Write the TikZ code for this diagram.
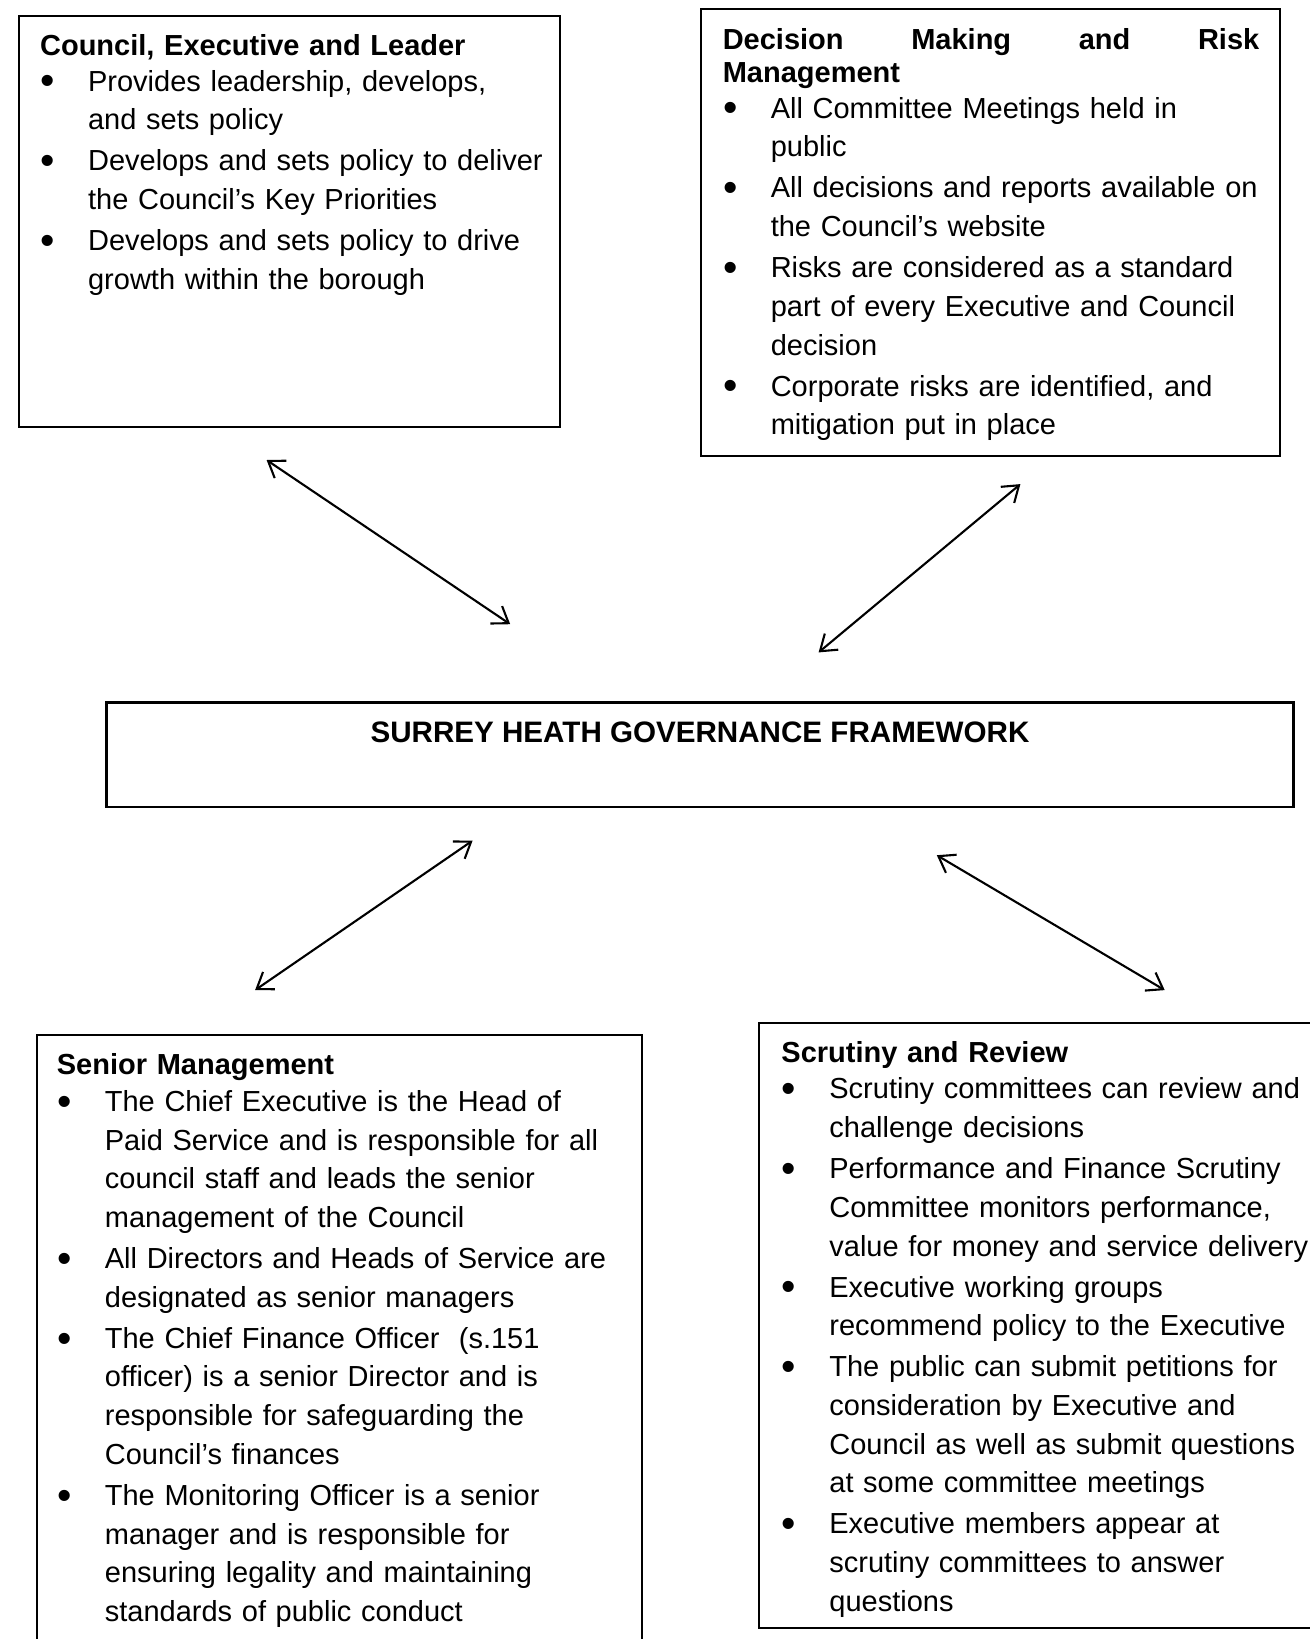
\documentclass[tikz,border=0pt]{standalone}
\usepackage{fontspec}
\setmainfont{Liberation Sans}
\usetikzlibrary{arrows.meta}
\newcommand{\bigbul}{\raisebox{-1.9pt}{\fontsize{20.5pt}{0pt}\selectfont\textbullet}}
\newcommand{\Bl}[2][1.2pt]{\par\vspace{#1}\noindent\makebox[24pt][l]{\hspace{0.2pt}\bigbul}#2}
\newcommand{\Ln}[1]{\par\noindent\hspace*{24pt}#1}
\begin{document}
\begin{tikzpicture}[x=0.5pt,y=-0.5pt,
  box/.style={draw, line width=1pt, rectangle, inner sep=0pt, outer sep=0pt},
  txt/.style={anchor=base west, inner sep=0pt, text width=330pt, align=left, font=\fontsize{14.5pt}{19.34pt}\selectfont},
  conn/.style={line width=1.05pt, {Straight Barb[length=7.5pt,width=10.5pt]}-{Straight Barb[length=7.5pt,width=10.5pt]}}]
\useasboundingbox (0,0) rectangle (1310,1639);
\clip (0,0) rectangle (1310,1639);
\fill[white] (0,0) rectangle (1310,1639);

% boxes
\node[box, minimum width=270.8pt, minimum height=205.45pt] (council) at (289.6,221.15) {};
\node[box, minimum width=289.6pt, minimum height=223.2pt] (decision) at (990.1,232.6) {};
\node[box, line width=1.3pt, minimum width=593.35pt, minimum height=52.25pt] (centre) at (699.95,754.85) {};
\node[box, minimum width=302.7pt, minimum height=332.5pt] (senior) at (339.3,1367.5) {};
\node[box, minimum width=285.5pt, minimum height=302.75pt] (scrutiny) at (1044.5,1325.25) {};

% texts
\node[txt] (councilT) at (39.7,55.6) {\noindent\textbf{Council, Executive and Leader}
\Bl[-1.6pt]{Provides leadership, develops,}
\Ln{and sets policy}
\Bl{Develops and sets policy to deliver}
\Ln{the Council’s Key Priorities}
\Bl{Develops and sets policy to drive}
\Ln{growth within the borough}};

\node[txt] (decisionT) at (722.4,49.2) {\noindent\textbf{\makebox[268.25pt][l]{Decision\hfill Making\hfill and\hfill Risk}}
\par\vspace{-2.64pt}\noindent\textbf{Management}
\Bl[-1.57pt]{All Committee Meetings held in}
\Ln{public}
\Bl{All decisions and reports available on}
\Ln{the Council’s website}
\Bl{Risks are considered as a standard}
\Ln{part of every Executive and Council}
\Ln{decision}
\Bl{Corporate risks are identified, and}
\Ln{mitigation put in place}};

\node[anchor=base, inner sep=0pt, font=\fontsize{14.8pt}{19.34pt}\selectfont\bfseries] (title) at (700,742.4) {SURREY HEATH GOVERNANCE FRAMEWORK};

\node[txt] (seniorT) at (56.5,1074.8) {\noindent\textbf{Senior Management}
\Bl[-1.04pt]{The Chief Executive is the Head of}
\Ln{Paid Service and is responsible for all}
\Ln{council staff and leads the senior}
\Ln{management of the Council}
\Bl{All Directors and Heads of Service are}
\Ln{designated as senior managers}
\Bl{The Chief Finance Officer\ \ (s.151}
\Ln{officer) is a senior Director and is}
\Ln{responsible for safeguarding the}
\Ln{Council’s finances}
\Bl{The Monitoring Officer is a senior}
\Ln{manager and is responsible for}
\Ln{ensuring legality and maintaining}
\Ln{standards of public conduct}};

\node[txt] (scrutinyT) at (781,1062.3) {\noindent\textbf{Scrutiny and Review}
\Bl[-1.04pt]{Scrutiny committees can review and}
\Ln{challenge decisions}
\Bl{Performance and Finance Scrutiny}
\Ln{Committee monitors performance,}
\Ln{value for money and service delivery}
\Bl{Executive working groups}
\Ln{recommend policy to the Executive}
\Bl{The public can submit petitions for}
\Ln{consideration by Executive and}
\Ln{Council as well as submit questions}
\Ln{at some committee meetings}
\Bl{Executive members appear at}
\Ln{scrutiny committees to answer}
\Ln{questions}};

% connector ends
\coordinate (a1s) at (266.6,460.0);
\coordinate (a1e) at (510.2,624.2);
\coordinate (a2s) at (1020.4,484.1);
\coordinate (a2e) at (818.6,652.4);
\coordinate (a3s) at (472.6,840.6);
\coordinate (a3e) at (255.1,990.1);
\coordinate (a4s) at (936.8,855.2);
\coordinate (a4e) at (1164.7,990.1);
\draw[conn] (a1s) -- (a1e);
\draw[conn] (a2s) -- (a2e);
\draw[conn] (a3s) -- (a3e);
\draw[conn] (a4s) -- (a4e);
\end{tikzpicture}
\end{document}
